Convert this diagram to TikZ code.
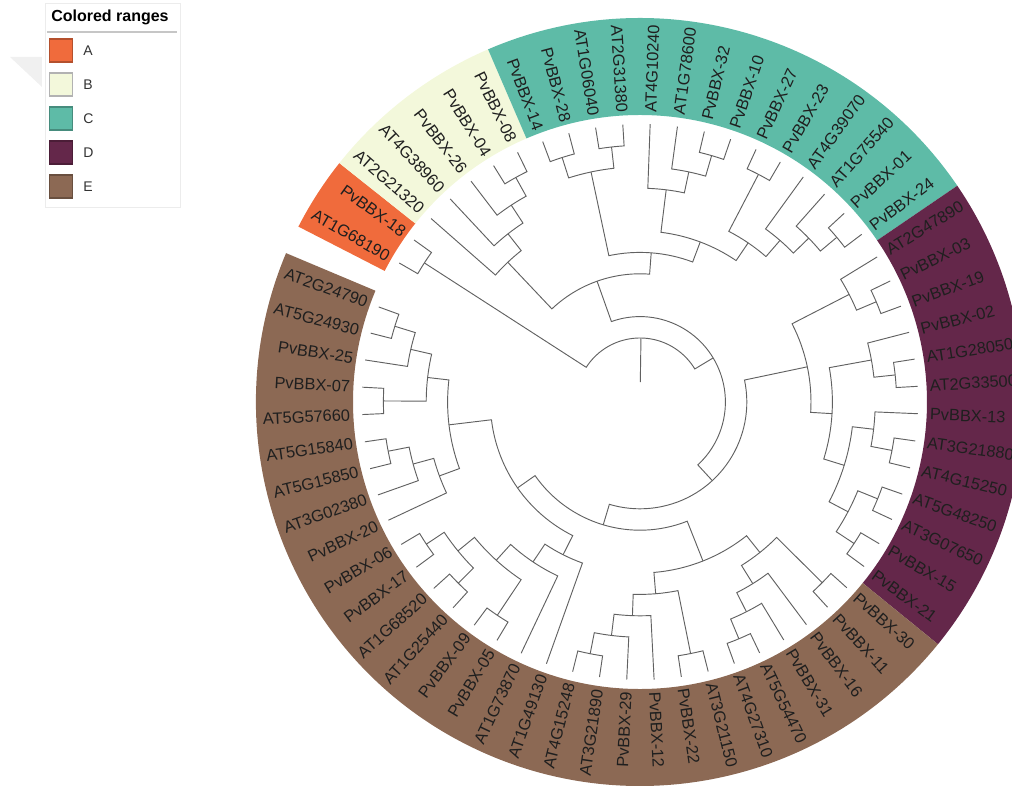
\documentclass[tikz,border=0pt]{standalone}
\usepackage{fontspec}
\setmainfont{Liberation Sans}
\usetikzlibrary{positioning}

\definecolor{colA}{HTML}{F06B3C}
\definecolor{colB}{HTML}{F3F8DB}
\definecolor{colC}{HTML}{5EBBA7}
\definecolor{colD}{HTML}{64274A}
\definecolor{colE}{HTML}{8C6954}

% tree geometry (1 unit = 1 px of the picture)
\newcommand\rtip{278}
\newcommand\hstep{21.4}
\newcommand\lstep{5.645}
\newcommand\rlab{290}
\newcommand\ringin{287}
\newcommand\ringout{384}

% coloured range behind leaves #2..#3
\newcommand\colrange[3]{%
  \pgfmathsetmacro\angS{150-(#2-0.5)*\lstep}%
  \pgfmathsetmacro\angE{150-(#3+0.5)*\lstep}%
  \fill[#1] (\angS:\ringin) arc[start angle=\angS, end angle=\angE, radius=\ringin]
    -- (\angE:\ringout) arc[start angle=\angE, end angle=\angS, radius=\ringout] -- cycle;}

% leaf: id, position, label
\newcommand\leaf[3]{%
  \pgfmathsetmacro\angL{150-#2*\lstep}%
  \expandafter\xdef\csname tang#1\endcsname{\angL}%
  \expandafter\xdef\csname tht#1\endcsname{0}%
  \pgfmathtruncatemacro\leftside{(\angL>90)||(\angL<-90)}%
  \ifnum\leftside=1
    \node[lab, anchor=east, rotate=\angL+180] (#1) at (\angL:\rlab) {#3};
  \else
    \node[lab, anchor=west, rotate=\angL] (#1) at (\angL:\rlab) {#3};
  \fi}

% clade: id, first child, last child
\newcommand\clade[3]{%
  \edef\angA{\csname tang#2\endcsname}\edef\angB{\csname tang#3\endcsname}%
  \edef\htA{\csname tht#2\endcsname}\edef\htB{\csname tht#3\endcsname}%
  \pgfmathsetmacro\htP{max(\htA,\htB)+1}%
  \pgfmathsetmacro\radP{\rtip-\hstep*\htP}%
  \pgfmathsetmacro\radA{\rtip-\hstep*\htA}%
  \pgfmathsetmacro\radB{\rtip-\hstep*\htB}%
  \pgfmathsetmacro\angP{(\angA+\angB)/2}%
  \draw[branch] (\angA:\radA) -- (\angA:\radP)
    arc[start angle=\angA, end angle=\angB, radius=\radP] -- (\angB:\radB);
  \expandafter\xdef\csname tang#1\endcsname{\angP}%
  \expandafter\xdef\csname tht#1\endcsname{\htP}}

\tikzset{
  branch/.style={draw=black!62, line width=0.7pt},
  lab/.style={inner sep=0pt, text=black!88, font=\fontsize{12.3}{14}\selectfont},
  swatch/.style={minimum size=17.25pt, inner sep=0pt, line width=1pt},
  legtext/.style={inner sep=0pt, text=black!80, font=\fontsize{10.5}{12}\selectfont}
}

\begin{document}
\begin{tikzpicture}[x=0.75pt,y=0.75pt]
  \useasboundingbox (-640,-383) rectangle (372,402);
  \clip (-640,-383) rectangle (372,402);

  % colored ranges
  \colrange{colA}{0}{1}
  \colrange{colB}{2}{6}
  \colrange{colC}{7}{20}
  \colrange{colD}{21}{33}
  \colrange{colE}{34}{62}

  % leaves
  \leaf{l0}{0}{AT1G68190}
  \leaf{l1}{1}{PvBBX-18}
  \leaf{l2}{2}{AT2G21320}
  \leaf{l3}{3}{AT4G38960}
  \leaf{l4}{4}{PvBBX-26}
  \leaf{l5}{5}{PvBBX-04}
  \leaf{l6}{6}{PvBBX-08}
  \leaf{l7}{7}{PvBBX-14}
  \leaf{l8}{8}{PvBBX-28}
  \leaf{l9}{9}{AT1G06040}
  \leaf{l10}{10}{AT2G31380}
  \leaf{l11}{11}{AT4G10240}
  \leaf{l12}{12}{AT1G78600}
  \leaf{l13}{13}{PvBBX-32}
  \leaf{l14}{14}{PvBBX-10}
  \leaf{l15}{15}{PvBBX-27}
  \leaf{l16}{16}{PvBBX-23}
  \leaf{l17}{17}{AT4G39070}
  \leaf{l18}{18}{AT1G75540}
  \leaf{l19}{19}{PvBBX-01}
  \leaf{l20}{20}{PvBBX-24}
  \leaf{l21}{21}{AT2G47890}
  \leaf{l22}{22}{PvBBX-03}
  \leaf{l23}{23}{PvBBX-19}
  \leaf{l24}{24}{PvBBX-02}
  \leaf{l25}{25}{AT1G28050}
  \leaf{l26}{26}{AT2G33500}
  \leaf{l27}{27}{PvBBX-13}
  \leaf{l28}{28}{AT3G21880}
  \leaf{l29}{29}{AT4G15250}
  \leaf{l30}{30}{AT5G48250}
  \leaf{l31}{31}{AT3G07650}
  \leaf{l32}{32}{PvBBX-15}
  \leaf{l33}{33}{PvBBX-21}
  \leaf{l34}{34}{PvBBX-30}
  \leaf{l35}{35}{PvBBX-11}
  \leaf{l36}{36}{PvBBX-16}
  \leaf{l37}{37}{PvBBX-31}
  \leaf{l38}{38}{AT5G54470}
  \leaf{l39}{39}{AT4G27310}
  \leaf{l40}{40}{AT3G21150}
  \leaf{l41}{41}{PvBBX-22}
  \leaf{l42}{42}{PvBBX-12}
  \leaf{l43}{43}{PvBBX-29}
  \leaf{l44}{44}{AT3G21890}
  \leaf{l45}{45}{AT4G15248}
  \leaf{l46}{46}{AT1G49130}
  \leaf{l47}{47}{AT1G73870}
  \leaf{l48}{48}{PvBBX-05}
  \leaf{l49}{49}{PvBBX-09}
  \leaf{l50}{50}{AT1G25440}
  \leaf{l51}{51}{AT1G68520}
  \leaf{l52}{52}{PvBBX-17}
  \leaf{l53}{53}{PvBBX-06}
  \leaf{l54}{54}{PvBBX-20}
  \leaf{l55}{55}{AT3G02380}
  \leaf{l56}{56}{AT5G15850}
  \leaf{l57}{57}{AT5G15840}
  \leaf{l58}{58}{AT5G57660}
  \leaf{l59}{59}{PvBBX-07}
  \leaf{l60}{60}{PvBBX-25}
  \leaf{l61}{61}{AT5G24930}
  \leaf{l62}{62}{AT2G24790}

  % clade A
  \clade{a}{l0}{l1}
  % clade B
  \clade{b56}{l5}{l6}
  \clade{b4}{l4}{b56}
  \clade{b3}{l3}{b4}
  \clade{b}{l2}{b3}
  % clade C
  \clade{c78}{l7}{l8}
  \clade{c910}{l9}{l10}
  \clade{c7}{c78}{c910}
  \clade{c1314}{l13}{l14}
  \clade{c12}{l12}{c1314}
  \clade{c11}{l11}{c12}
  \clade{c1516}{l15}{l16}
  \clade{c1920}{l19}{l20}
  \clade{c18}{l18}{c1920}
  \clade{c17}{l17}{c18}
  \clade{c15}{c1516}{c17}
  \clade{c11x}{c11}{c15}
  \clade{c}{c7}{c11x}
  \clade{y}{b}{c}
  % clade D
  \clade{d2223}{l22}{l23}
  \clade{d21}{l21}{d2223}
  \clade{d2526}{l25}{l26}
  \clade{d24}{l24}{d2526}
  \clade{d2829}{l28}{l29}
  \clade{d27}{l27}{d2829}
  \clade{d3031}{l30}{l31}
  \clade{d3233}{l32}{l33}
  \clade{d30}{d3031}{d3233}
  \clade{d27x}{d27}{d30}
  \clade{d24x}{d24}{d27x}
  \clade{d}{d21}{d24x}
  % clade E
  \clade{e3435}{l34}{l35}
  \clade{e3839}{l38}{l39}
  \clade{e37}{l37}{e3839}
  \clade{e36}{l36}{e37}
  \clade{e34}{e3435}{e36}
  \clade{e4041}{l40}{l41}
  \clade{e4445}{l44}{l45}
  \clade{e43}{l43}{e4445}
  \clade{e42}{l42}{e43}
  \clade{e40}{e4041}{e42}
  \clade{eright}{e34}{e40}
  \clade{e4849}{l48}{l49}
  \clade{e5051}{l50}{l51}
  \clade{e5253}{l52}{l53}
  \clade{e50}{e5051}{e5253}
  \clade{e48}{e4849}{e50}
  \clade{e47}{l47}{e48}
  \clade{ea}{l46}{e47}
  \clade{e5657}{l56}{l57}
  \clade{e55}{l55}{e5657}
  \clade{e54}{l54}{e55}
  \clade{e5859}{l58}{l59}
  \clade{e6162}{l61}{l62}
  \clade{e60}{l60}{e6162}
  \clade{e58}{e5859}{e60}
  \clade{eb}{e54}{e58}
  \clade{eleft}{ea}{eb}
  \clade{e}{eright}{eleft}
  % backbone
  \clade{z}{d}{e}
  \clade{x}{y}{z}
  \clade{root}{a}{x}
  \draw[branch] (\angP:20) -- (\angP:\radP);

  % legend
  \fill[gray!12] (-630,345) -- (-598,345) -- (-598,315) -- cycle;
  \draw[gray!15, fill=white] (-595,399) rectangle (-460,195);
  \node[anchor=west, inner sep=0pt, font=\bfseries\fontsize{12}{14}\selectfont] (legtitle) at (-589,385) {Colored ranges};
  \draw[gray!45, line width=1pt] (-593,370) -- (-463,370);
  \node[swatch, fill=colA, draw=colA!75!black] (swA) at (-579,351.5) {};
  \node[swatch, fill=colB, draw=black!30] (swB) at (-579,317.5) {};
  \node[swatch, fill=colC, draw=colC!75!black] (swC) at (-579,283.5) {};
  \node[swatch, fill=colD, draw=colD!75!black] (swD) at (-579,249.5) {};
  \node[swatch, fill=colE, draw=colE!75!black] (swE) at (-579,215.5) {};
  \node[legtext, right=7.5pt of swA] (legA) {A};
  \node[legtext, right=7.5pt of swB] (legB) {B};
  \node[legtext, right=7.5pt of swC] (legC) {C};
  \node[legtext, right=7.5pt of swD] (legD) {D};
  \node[legtext, right=7.5pt of swE] (legE) {E};
\end{tikzpicture}
\end{document}
